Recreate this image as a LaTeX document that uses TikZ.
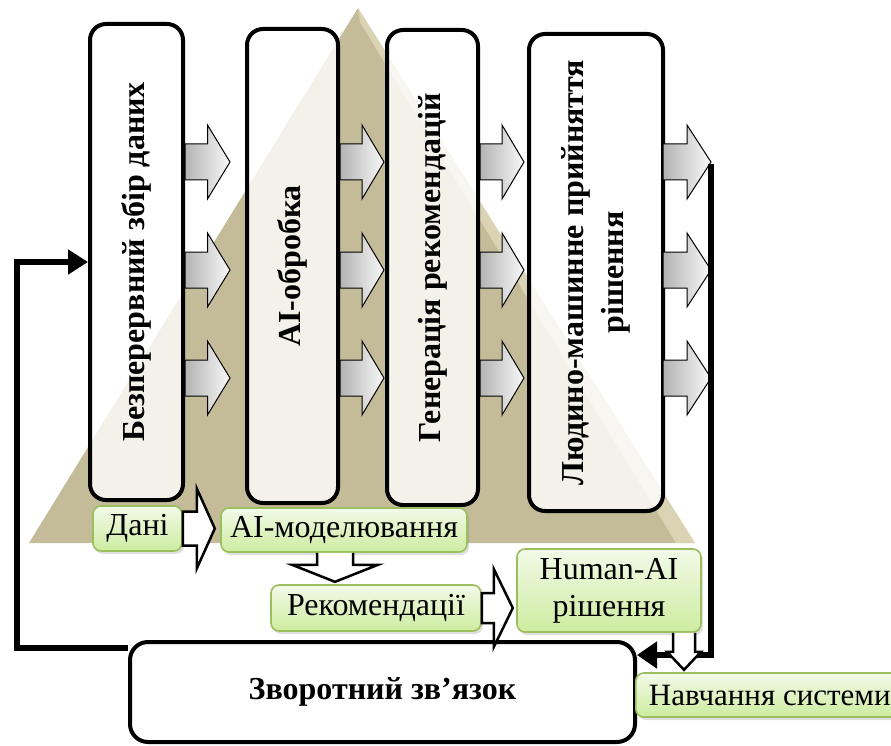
\documentclass[tikz,border=0pt]{standalone}
\usepackage{fontspec}
\setmainfont{Liberation Serif}
\usetikzlibrary{arrows.meta,shadows}
\definecolor{pyrtan}{RGB}{196,187,152}
\definecolor{pyrlight}{RGB}{234,229,200}
\definecolor{lblborder}{RGB}{155,190,95}
\definecolor{lbltop}{RGB}{242,250,232}
\definecolor{lblbot}{RGB}{205,236,160}

\begin{document}
\begin{tikzpicture}[x=1pt,y=-1pt,
  stage/.style={draw,line width=4pt,rounded corners=16pt,fill=white,fill opacity=0.8,text opacity=1,
    rotate=90,align=center,font=\fontsize{32}{40}\selectfont\bfseries},
  lbl/.style={draw=lblborder,line width=1.6pt,rounded corners=8pt,top color=lbltop,bottom color=lblbot,
    align=center,inner xsep=3pt,inner ysep=2pt,font=\fontsize{32}{37}\selectfont,
    drop shadow={opacity=0.25,shadow xshift=2pt,shadow yshift=-3pt}},
  grayarr/.style={draw,line width=1pt,left color=gray!60,right color=gray!5},
  whitearr/.style={draw,line width=2.5pt,fill=white,line join=miter},
  loopline/.style={line width=6pt,line join=miter}]
\useasboundingbox (0,0) rectangle (891,746);

\fill[pyrtan] (358,8) -- (695,543) -- (29,543) -- cycle;
\fill[pyrlight,opacity=0.6] (358,8) -- (695,543) -- (676,543) -- (360,22) -- cycle;

\node[stage,minimum width=476pt,minimum height=93pt] (b1) at (136.5,262) {Безперервний збір даних};
\node[stage,minimum width=474pt,minimum height=91pt] (b2) at (292.5,266) {AI-обробка};
\node[stage,minimum width=475pt,minimum height=91pt] (b3) at (432.5,267.5) {Генерація рекомендацій};
\node[stage,minimum width=477pt,minimum height=134pt] (b4) at (596,272.5) {Людино-машинне прийняття\\рішення};

\foreach \x/\l in {185/45,340/44,480/44,663/48}
{
	\foreach \y in {162,270,378}
	{
		\draw[grayarr] (\x,\y-18) -- (\x+\l/2,\y-18) -- (\x+\l/2,\y-37) -- (\x+\l,\y)
			-- (\x+\l/2,\y+37) -- (\x+\l/2,\y+18) -- (\x,\y+18) -- cycle;
	}
}

\node[draw,line width=4pt,rounded corners=18pt,fill=white,minimum width=505pt,minimum height=100pt,
	font=\fontsize{32}{36}\selectfont\bfseries] (fb) at (382.5,692) {\raisebox{-6pt}{Зворотний зв’язок}};

\coordinate (fbin) at (128,648);
\coordinate (lcorner) at (17,648);
\draw[loopline,-{Triangle[length=20pt,width=24pt]}] (fbin) -- (lcorner) |- (b1.north);

\coordinate (rtop) at (711,164);
\coordinate (rcorner) at (711,655);
\draw[loopline,-{Triangle[length=20pt,width=26pt]}] (rtop) -- (rcorner) -- (rcorner -| fb.east);

\node[lbl,minimum width=89pt,minimum height=45pt] (dani) at (137.5,528.5) {Дані};
\node[lbl,minimum width=246pt,minimum height=44pt] (aim) at (344,530) {AI-моделювання};
\node[lbl,minimum width=210pt,minimum height=46pt] (rek) at (376,608) {Рекомендації};
\node[lbl,minimum width=184pt,minimum height=83pt] (ha) at (609,590.5) {Human-AI\\рішення};
\node[lbl,anchor=west,inner xsep=6pt,minimum width=268pt,minimum height=44pt,align=left,
	font=\fontsize{31}{36}\selectfont] (nav) at (635,695) {Навчання системи};

\draw[whitearr] (dani.east) ++(0,-17) -- ++(14,0) -- ++(0,-23) -- ++(18,40) -- ++(-18,40)
	-- ++(0,-23) -- ++(-14,0) -- cycle;
\draw[whitearr] ([xshift=-27pt]aim.south) -- ++(0,12) -- ++(-25,0) -- ++(43,17) -- ++(43,-17)
	-- ++(-25,0) -- ++(0,-12);
\draw[whitearr] (rek.east) ++(0,-15) -- ++(12,0) -- ++(0,-24) -- ++(19,39) -- ++(-19,39)
	-- ++(0,-24) -- ++(-12,0) -- cycle;
\draw[whitearr] ([xshift=64pt]ha.south) -- ++(0,19) -- ++(-6,0) -- ++(17,18) -- ++(17,-18)
	-- ++(-6,0) -- ++(0,-19);
\end{tikzpicture}
\end{document}
